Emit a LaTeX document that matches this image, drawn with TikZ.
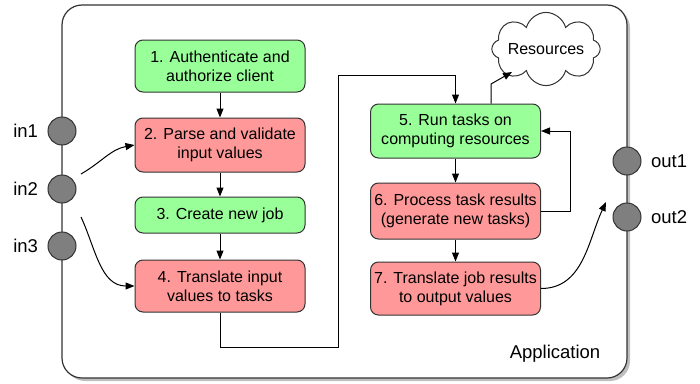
\documentclass[tikz,border=0pt]{standalone}
\usepackage{fontspec}
\setmainfont{Liberation Sans}
\usetikzlibrary{shapes.symbols,arrows.meta}

\definecolor{stepgreen}{HTML}{99FF99}
\definecolor{stepred}{HTML}{FF9999}
\definecolor{portgray}{HTML}{7F7F7F}
\definecolor{edgegray}{HTML}{333333}

\tikzset{
    txt/.style={font=\fontsize{16}{19}\selectfont},
    bigtxt/.style={font=\fontsize{18.5}{22}\selectfont},
    box/.style={txt, draw=edgegray, line width=1pt, rounded corners=8pt,
        minimum width=170pt, align=center, inner sep=0pt},
    okbox/.style={box, fill=stepgreen},
    errbox/.style={box, fill=stepred},
    port/.style={circle, draw=edgegray, line width=1pt, fill=portgray,
        minimum size=28pt, inner sep=0pt},
    flow/.style={line width=1pt, -{Triangle[length=9pt,width=7pt]}}
}

\begin{document}
\begin{tikzpicture}[x=1pt, y=-1pt]
    \useasboundingbox (0, 0) rectangle (700, 383);

    % application frame
    \fill[black!25, rounded corners=20pt] (65, 8) rectangle (630, 381);
    \draw[edgegray, fill=white, line width=1.2pt, rounded corners=20pt] (62, 5) rectangle (627, 378);
    \node[bigtxt] (app) at (555, 354) {Application};

    % ports
    \node[port, label={[bigtxt, label distance=6pt]left:in1}] (in1) at (62, 131) {};
    \node[port, label={[bigtxt, label distance=6pt]left:in2}] (in2) at (62, 189) {};
    \node[port, label={[bigtxt, label distance=6pt]left:in3}] (in3) at (62, 246) {};
    \node[port, label={[bigtxt, label distance=6pt]right:out1}] (out1) at (627, 161) {};
    \node[port, label={[bigtxt, label distance=6pt]right:out2}] (out2) at (627, 217) {};

    % steps
    \node[okbox, minimum height=52pt] (b1) at (220, 66) {1. Authenticate and\\authorize client};
    \node[errbox, minimum height=54pt] (b2) at (220, 145) {2. Parse and validate\\input values};
    \node[okbox, minimum height=36pt] (b3) at (220, 215) {3. Create new job};
    \node[errbox, minimum height=52pt] (b4) at (220, 286) {4. Translate input\\values to tasks};
    \node[okbox, minimum height=54pt] (b5) at (455.5, 131) {5. Run tasks on\\computing resources};
    \node[errbox, minimum height=56pt] (b6) at (455.5, 211) {6. Process task results\\(generate new tasks)};
    \node[errbox, minimum height=53pt] (b7) at (455.5, 288.5) {7. Translate job results\\to output values};

    \node[txt, cloud, cloud puffs=8, aspect=2.2, draw=edgegray, line width=1pt, fill=white,
        minimum width=88pt, minimum height=40pt, inner sep=-2pt] (res) at (546, 49) {Resources};

    % free ends
    \coordinate (in2a) at (81, 174);
    \coordinate (in2b) at (81, 217);
    \coordinate (outin) at (606, 202);
    \coordinate (loopa) at (338, 347);
    \coordinate (loopb) at (338, 75);
    \coordinate (up) at (491, 84);
    \coordinate (resin) at (512, 72);
    \coordinate (fb) at (570, 131);

    % connectors
    \draw[flow] (b1) -- (b2);
    \draw[flow] (b2) -- (b3);
    \draw[flow] (b3) -- (b4);
    \draw[flow] (b4.south) |- (loopa) -- (loopb) -| (b5.north);
    \draw[flow] (b5.north -| up) -- (up) -- (resin);
    \draw[flow] (b5) -- (b6);
    \draw[flow] (b6.east) -| (fb) -- (b5.east);
    \draw[flow] (b6) -- (b7);

    \draw[flow] (in2a) to[out=30, in=190] (b2.west);
    \draw[flow] (in2b) to[out=-65, in=180] (b4.west);
    \draw[flow] (b7.east) to[out=0, in=245] (outin);
\end{tikzpicture}
\end{document}
